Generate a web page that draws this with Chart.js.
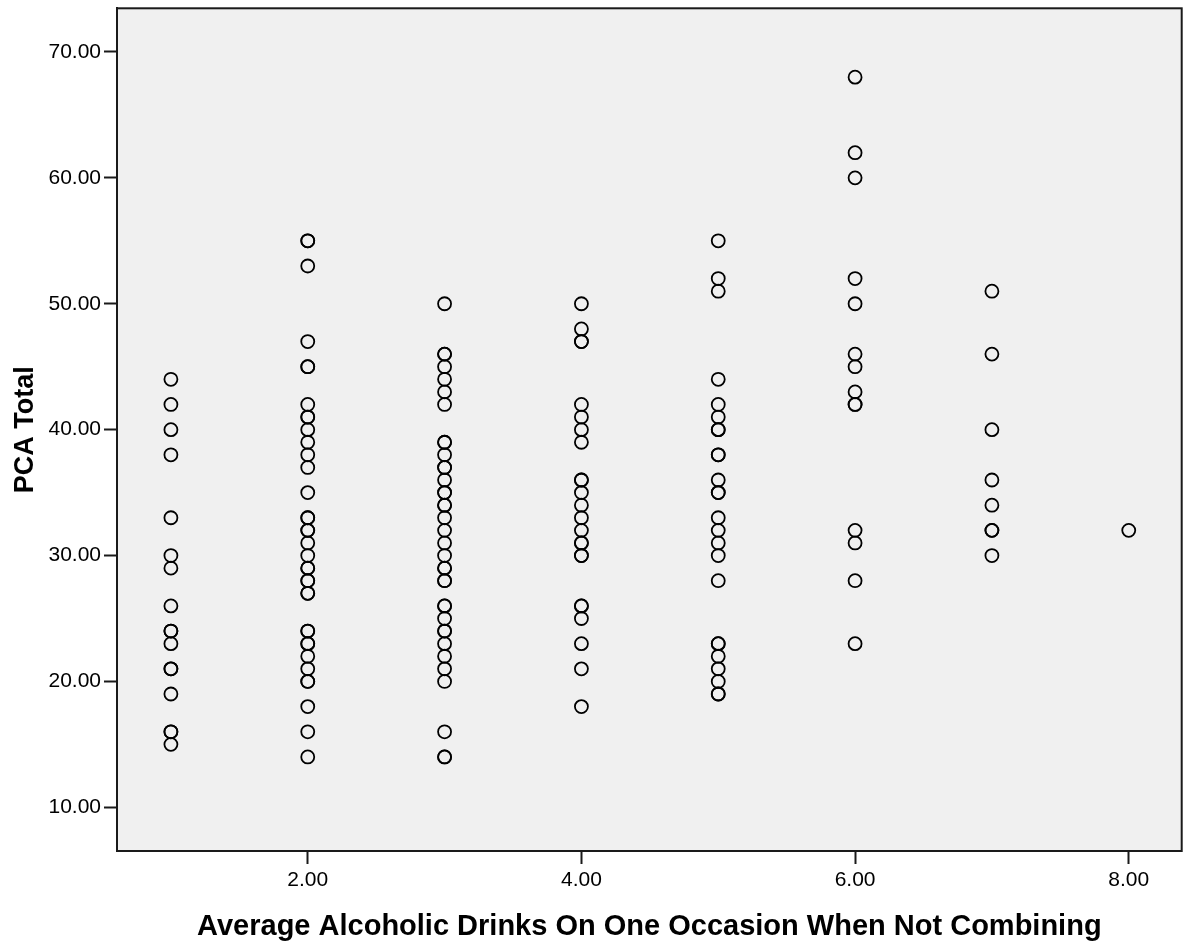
<!DOCTYPE html>
<html>
<head>
<meta charset="utf-8">
<script src="https://cdn.jsdelivr.net/npm/chart.js@4/dist/chart.umd.min.js"></script>
<style>
  html, body { margin: 0; padding: 0; background: #fff; }
  #wrap { width: 1190px; height: 944px; }
</style>
</head>
<body>
<div id="wrap"><canvas id="scatter"></canvas></div>
<script>
// drinks per occasion (x) and PCA totals read per column
var drinks = [1, 2, 3, 4, 5, 6, 7, 8];
var pca1 = [44, 42, 40, 38, 33, 30, 29, 26, 24, 24, 23, 21, 21, 19, 16, 16, 15];
var pca2 = [55, 55, 53, 47, 45, 45, 42, 41, 41, 40, 39, 38, 37, 35, 33, 33, 32, 32, 31, 30,
            29, 29, 28, 28, 27, 27, 24, 24, 23, 23, 22, 21, 20, 20, 18, 16, 14];
var pca3 = [50, 46, 46, 45, 44, 43, 42, 39, 39, 38, 37, 37, 36, 35, 35, 34, 34, 33, 32, 31,
            30, 29, 29, 28, 28, 26, 26, 25, 24, 24, 23, 22, 21, 20, 16, 14, 14];
var pca4 = [50, 48, 47, 47, 42, 41, 40, 39, 36, 36, 35, 34, 33, 32, 31, 31, 30, 30, 26, 26, 25, 23, 21, 18];
var pca5 = [55, 52, 51, 44, 42, 41, 40, 40, 38, 38, 36, 35, 35, 33, 32, 31, 30, 28, 23, 23, 22, 21, 20, 19, 19];
var pca6 = [68, 62, 60, 52, 50, 46, 45, 43, 42, 42, 32, 31, 28, 23];
var pca7 = [51, 46, 40, 36, 34, 32, 32, 30];
var pca8 = [32];
var xTicks = [2, 4, 6, 8];
var yTicks = [10, 20, 30, 40, 50, 60, 70];

var columns = [pca1, pca2, pca3, pca4, pca5, pca6, pca7, pca8];
var points = [];
columns.forEach(function (col, i) {
    col.forEach(function (v) { points.push({ x: drinks[i], y: v }); });
});

// grey plot background + frame
var frame = {
    id: 'frame',
    beforeDatasetsDraw: function (chart) {
        var a = chart.chartArea, ctx = chart.ctx;
        ctx.save();
        ctx.fillStyle = '#f0f0f0';
        ctx.fillRect(a.left, a.top, a.right - a.left, a.bottom - a.top);
        ctx.restore();
    },
    afterDraw: function (chart) {
        var a = chart.chartArea, ctx = chart.ctx;
        ctx.save();
        ctx.strokeStyle = '#1a1a1a';
        ctx.lineWidth = 2;
        ctx.strokeRect(a.left, a.top, a.right - a.left, a.bottom - a.top);
        ctx.restore();
    }
};

var fam = "'Liberation Sans', Arial, sans-serif";

new Chart(document.getElementById('scatter'), {
    type: 'scatter',
    data: {
        datasets: [{
            data: points,
            pointRadius: 6.5,
            pointHoverRadius: 6.5,
            borderWidth: 1.8,
            borderColor: '#000',
            backgroundColor: 'rgba(0,0,0,0)'
        }]
    },
    options: {
        responsive: true,
        maintainAspectRatio: false,
        animation: false,
        layout: { padding: { left: 0, right: 6, top: 4, bottom: 0 } },
        plugins: { legend: { display: false }, tooltip: { enabled: false } },
        scales: {
            x: {
                type: 'linear',
                min: 0.606,
                max: 8.387,
                afterBuildTicks: function (s) { s.ticks = xTicks.map(function (v) { return { value: v }; }); },
                afterFit: function (s) { s.height = 93; s.paddingLeft = 0; s.paddingRight = 0; },
                grid: { drawOnChartArea: false, tickLength: 13, tickColor: '#1a1a1a', tickWidth: 2 },
                border: { display: true, color: '#1a1a1a', width: 2 },
                ticks: {
                    color: '#000',
                    padding: 4,
                    font: { family: fam, size: 21 },
                    callback: function (v) { return v.toFixed(2); }
                },
                title: {
                    display: true,
                    text: 'Average Alcoholic Drinks On One Occasion When Not Combining',
                    color: '#000',
                    font: { family: fam, size: 29, weight: 'bold' },
                    padding: { top: 0, bottom: 0 }
                }
            },
            y: {
                type: 'linear',
                min: 6.53,
                max: 73.47,
                afterBuildTicks: function (s) { s.ticks = yTicks.map(function (v) { return { value: v }; }); },
                afterFit: function (s) { s.width = 117; s.paddingTop = 0; s.paddingBottom = 0; },
                grid: { drawOnChartArea: false, tickLength: 13, tickColor: '#1a1a1a', tickWidth: 2 },
                border: { display: true, color: '#1a1a1a', width: 2 },
                ticks: {
                    color: '#000',
                    padding: 3,
                    font: { family: fam, size: 21 },
                    callback: function (v) { return v.toFixed(2); }
                },
                title: {
                    display: true,
                    text: 'PCA Total',
                    color: '#000',
                    font: { family: fam, size: 27, weight: 'bold' },
                    padding: { top: 9, bottom: 0 }
                }
            }
        }
    },
    plugins: [frame]
});
</script>
</body>
</html>
